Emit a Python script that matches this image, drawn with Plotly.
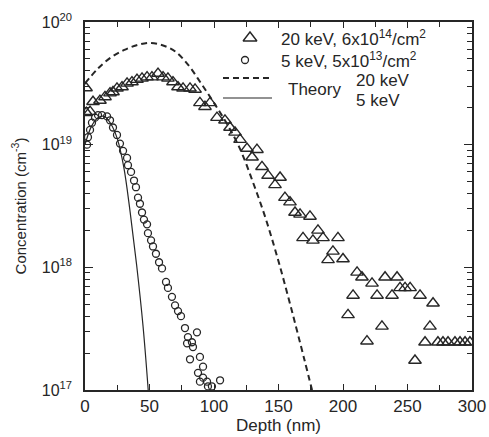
import plotly.graph_objects as go

# ---------------- data ----------------
# 20 keV implant, measured (triangles)
tri_depth = [0.8, 1.0, 3.9, 6.2, 11.6, 15.5, 19.4, 21.7, 24.8, 28.7, 32.6, 36.4, 40.3, 44.2,
             48.1, 51.9, 56.6, 60.5, 64.3, 68.2, 72.1, 76.0, 81.4, 85.3, 89.1, 93.0, 96.9,
             102.3, 108.5, 112.4, 116.3, 120.2, 125.6, 129.5, 133.3, 137.2, 141.9, 147.3,
             151.2, 155.0, 158.9, 162.8, 166.7, 174.4, 180.6, 169.0, 176.7, 184.5, 196.1,
             192.2, 188.4, 200.0, 210.9, 214.7, 222.5, 232.6, 241.9, 244.2, 248.1, 252.0,
             207.8, 226.4, 238.0, 259.7, 269.8, 203.9, 230.2, 267.4, 218.6, 263.6, 273.6,
             277.5, 281.4, 286.8, 290.7, 294.6, 298.4, 255.8]
tri_conc = [2.9e19, 1.82e19, 1.86e19, 2.24e19, 2.29e19, 2.45e19, 2.63e19, 2.69e19, 2.88e19,
            2.95e19, 3.16e19, 3.24e19, 3.39e19, 3.47e19, 3.55e19, 3.55e19, 3.80e19, 3.55e19,
            3.47e19, 3.24e19, 2.95e19, 2.88e19, 2.88e19, 2.82e19, 2.19e19, 2.04e19, 2.19e19,
            1.66e19, 1.58e19, 1.38e19, 1.26e19, 1.10e19, 9.3e18, 7.9e18, 9.1e18, 6.6e18,
            5.6e18, 4.7e18, 5.4e18, 3.7e18, 3.4e18, 2.8e18, 2.7e18, 2.6e18, 2.0e18, 1.74e18,
            1.66e18, 1.74e18, 1.74e18, 1.35e18, 1.15e18, 1.17e18, 9.1e17, 8.3e17, 7.4e17,
            8.3e17, 8.3e17, 6.8e17, 6.8e17, 6.8e17, 5.9e17, 5.9e17, 5.9e17, 5.9e17, 5.1e17,
            4.1e17, 3.3e17, 3.3e17, 2.5e17, 2.45e17, 2.45e17, 2.45e17, 2.45e17, 2.45e17,
            2.45e17, 2.45e17, 2.45e17, 1.74e17]

# 5 keV implant, measured (circles)
cir_depth = [1.6, 2.3, 3.9, 5.4, 7.8, 10.1, 13.2, 17.1, 19.4, 21.7, 24.8, 27.1, 29.5, 32.6,
             33.3, 35.7, 38.0, 39.5, 41.1, 42.6, 44.2, 45.7, 48.1, 48.8, 51.2, 52.7, 55.0,
             57.4, 59.7, 62.8, 64.3, 67.4, 69.8, 72.1, 74.4, 77.5, 79.8, 86.8, 82.9, 79.1,
             83.7, 81.4, 89.1, 91.5, 87.6, 91.5, 94.6, 104.7, 95.3, 98.4, 89.1]
cir_conc = [1.00e19, 1.15e19, 1.32e19, 1.51e19, 1.66e19, 1.74e19, 1.74e19, 1.70e19, 1.58e19,
            1.38e19, 1.20e19, 1.02e19, 8.9e18, 7.8e18, 6.8e18, 6.0e18, 5.1e18, 4.5e18,
            3.7e18, 3.3e18, 2.8e18, 2.45e18, 2.24e18, 1.9e18, 1.66e18, 1.48e18, 1.29e18,
            1.10e18, 9.8e17, 7.6e17, 6.8e17, 5.75e17, 4.9e17, 4.4e17, 4.0e17, 3.2e17,
            2.7e17, 2.95e17, 2.45e17, 2.4e17, 2.24e17, 1.78e17, 1.86e17, 1.55e17, 1.38e17,
            1.26e17, 1.17e17, 1.20e17, 1.07e17, 1.07e17, 1.17e17]

# Theory curves
th20_depth = [0, 10, 20, 30, 40, 50, 60, 70, 80, 90, 100, 110, 120, 130, 140, 150, 160, 170, 176]
th20_conc = [3.16e19, 4.17e19, 5.13e19, 5.89e19, 6.46e19, 6.76e19, 6.46e19, 5.75e19, 4.47e19,
             3.16e19, 2.19e19, 1.48e19, 9.33e18, 5.01e18, 2.51e18, 1.12e18, 4.57e17, 1.78e17,
             1.0e17]
th5_depth = [0, 5, 10, 15, 20, 25, 30, 35, 40, 45, 49]
th5_conc = [1.0e19, 1.41e19, 1.66e19, 1.70e19, 1.48e19, 1.12e19, 6.61e18, 2.82e18, 1.05e18,
            3.31e17, 1.0e17]

y_tickvals = [1e17, 1e18, 1e19, 1e20]
y_ticktext = ["10<sup>17</sup>", "10<sup>18</sup>", "10<sup>19</sup>", "10<sup>20</sup>"]
y_minor = [float(m) * 10.0 ** e for e in (17, 18, 19) for m in range(2, 10)]

INK = "#262626"
FONT = "Liberation Sans, Arial, Helvetica, sans-serif"

fig = go.Figure()
fig.add_trace(go.Scatter(x=th20_depth, y=th20_conc, mode="lines", line_shape="spline",
                         line=dict(color=INK, width=2, dash="6px,4px"), showlegend=False))
fig.add_trace(go.Scatter(x=th5_depth, y=th5_conc, mode="lines", line_shape="spline",
                         line=dict(color=INK, width=1.2), showlegend=False))
fig.add_trace(go.Scatter(x=tri_depth, y=tri_conc, mode="markers",
                         marker=dict(symbol="triangle-up-open", size=11, color=INK,
                                     line=dict(width=1.4, color=INK)), showlegend=False))
fig.add_trace(go.Scatter(x=cir_depth, y=cir_conc, mode="markers",
                         marker=dict(symbol="circle-open", size=7, color=INK,
                                     line=dict(width=1.3, color=INK)), showlegend=False))

# ---- hand-made legend on a pixel-like overlay axis ----
fig.add_trace(go.Scatter(x=[250], y=[38], xaxis="x2", yaxis="y2", mode="markers",
                         marker=dict(symbol="triangle-up-open", size=12, color=INK,
                                     line=dict(width=1.4, color=INK)), showlegend=False,
                         hoverinfo="skip"))
fig.add_trace(go.Scatter(x=[245], y=[60], xaxis="x2", yaxis="y2", mode="markers",
                         marker=dict(symbol="circle-open", size=7, color=INK,
                                     line=dict(width=1.3, color=INK)), showlegend=False,
                         hoverinfo="skip"))

shapes = [
    dict(type="line", xref="x2", yref="y2", x0=223, x1=272, y0=78, y1=78,
         line=dict(color=INK, width=2, dash="6px,4px")),
    dict(type="line", xref="x2", yref="y2", x0=223, x1=272, y0=98, y1=98,
         line=dict(color=INK, width=1.2)),
]
lf = dict(family=FONT, size=17, color=INK)
annotations = [
    dict(xref="x2", yref="y2", x=279, y=38, xanchor="left", yanchor="middle", showarrow=False,
         text="20 keV, 6x10<sup>14</sup>/cm<sup>2</sup>", font=lf),
    dict(xref="x2", yref="y2", x=279, y=60, xanchor="left", yanchor="middle", showarrow=False,
         text="5 keV, 5x10<sup>13</sup>/cm<sup>2</sup>", font=lf),
    dict(xref="x2", yref="y2", x=286, y=89, xanchor="left", yanchor="middle", showarrow=False,
         text="Theory", font=lf),
    dict(xref="x2", yref="y2", x=354, y=80, xanchor="left", yanchor="middle", showarrow=False,
         text="20 keV", font=lf),
    dict(xref="x2", yref="y2", x=354, y=100, xanchor="left", yanchor="middle", showarrow=False,
         text="5 keV", font=lf),
]

fig.update_layout(
    width=489, height=437,
    margin=dict(l=85, r=17, t=22, b=47),
    paper_bgcolor="white", plot_bgcolor="white",
    font=dict(family=FONT, color=INK, size=16),
    shapes=shapes, annotations=annotations,
    xaxis=dict(range=[0, 300], tickvals=[0, 50, 100, 150, 200, 250, 300], automargin=False,
               ticks="inside", ticklen=6, tickwidth=1.3, tickcolor=INK,
               showline=True, linecolor=INK, linewidth=1.5, mirror="ticks",
               showgrid=False, zeroline=False,
               minor=dict(tickvals=[25, 75, 125, 175, 225, 275], ticks="inside", ticklen=5,
                          tickwidth=1.2, tickcolor=INK, showgrid=False),
               tickfont=dict(size=17), ticklabelstandoff=0,
               title=dict(text="Depth (nm)", font=dict(size=17), standoff=2)),
    yaxis=dict(type="log", range=[17, 20], tickvals=y_tickvals, ticktext=y_ticktext,
               automargin=False,
               ticks="inside", ticklen=8, tickwidth=1.3, tickcolor=INK,
               showline=True, linecolor=INK, linewidth=1.5, mirror="ticks",
               showgrid=False, zeroline=False,
               minor=dict(tickvals=y_minor, ticks="inside", ticklen=5, tickwidth=1.1,
                          tickcolor=INK, showgrid=False),
               tickfont=dict(size=16), ticklabelstandoff=8,
               title=dict(text="Concentration (cm<sup>-3</sup>)", font=dict(size=15),
                          standoff=12)),
    xaxis2=dict(range=[85, 472], overlaying="x", visible=False, showgrid=False,
                zeroline=False, fixedrange=True, automargin=False),
    yaxis2=dict(range=[390, 22], overlaying="y", visible=False, showgrid=False,
                zeroline=False, fixedrange=True, automargin=False),
)

fig.write_html("out.html")
